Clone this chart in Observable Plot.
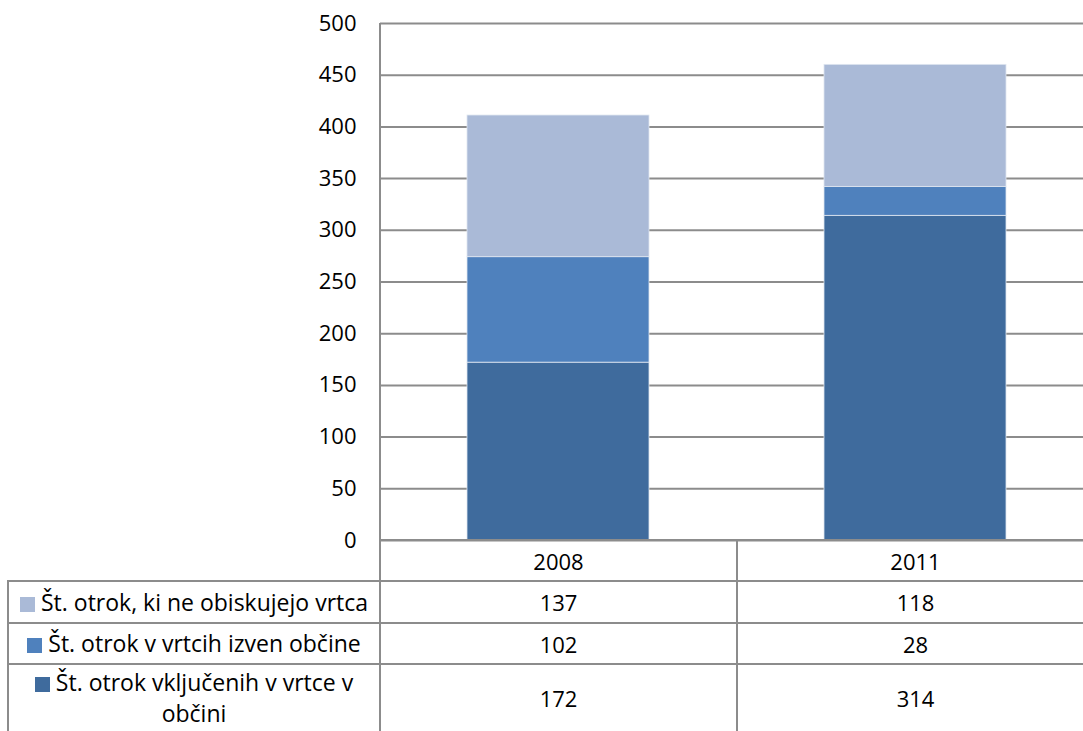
<!DOCTYPE html>
<html>
<head>
<meta charset="utf-8">
<script src="https://cdn.jsdelivr.net/npm/d3@7"></script>
<script src="https://cdn.jsdelivr.net/npm/@observablehq/plot@0.6"></script>
<style>
  html, body { margin: 0; padding: 0; background: #fff; overflow: hidden; }
  #wrap { position: relative; width: 1083px; height: 731px; overflow: hidden; font-family: "Open Sans", sans-serif; color: #000; }
  #chart { position: absolute; left: 0; top: 0; }
  #chart svg { max-width: none !important; }
  .ln { position: absolute; background: #8c8c8c; }
  .cell { position: absolute; display: flex; align-items: center; justify-content: center; text-align: center; font-size: 22px; line-height: 28px; }
  .lab { width: 364px; font-size: 23px; line-height: 31px; }
  .sw { display: inline-block; width: 15px; height: 15px; margin-right: 6px; vertical-align: -1px; }
</style>
</head>
<body>
<div id="wrap"><div id="chart"></div></div>
<script>
const years = ["2008", "2011"];
const seriesNames = [
  "Št. otrok vključenih v vrtce v občini",
  "Št. otrok v vrtcih izven občine",
  "Št. otrok, ki ne obiskujejo vrtca"
];
const vkljuceni = [172, 314];
const izven = [102, 28];
const neObiskujejo = [137, 118];
const colors = ["#3f6b9d", "#4f81bd", "#aabad7"];
const yTicks = [0, 50, 100, 150, 200, 250, 300, 350, 400, 450, 500];

const seriesValues = [vkljuceni, izven, neObiskujejo];
const data = [];
seriesNames.forEach((s, i) => years.forEach((y, j) => data.push({year: y, series: s, value: seriesValues[i][j]})));

const plot = Plot.plot({
  width: 1094,
  height: 560,
  marginLeft: 380,
  marginRight: 0,
  marginTop: 23,
  marginBottom: 20,
  style: {fontFamily: "Open Sans, sans-serif", fontSize: "22px", color: "#000", background: "transparent", maxWidth: "none"},
  x: {domain: years, paddingInner: 0.49, paddingOuter: 0.245, axis: null},
  y: {domain: [0, 500], ticks: yTicks, label: null},
  color: {domain: seriesNames, range: colors},
  marks: [
    Plot.gridY(yTicks, {stroke: "#8c8c8c", strokeOpacity: 1, strokeWidth: 2}),
    Plot.barY(data, {x: "year", y: "value", fill: "series", order: seriesNames, stroke: "#dfe6f0", strokeWidth: 0.8}),
    Plot.axisY(yTicks, {tickSize: 0, tickPadding: 24, fontSize: 22, fill: "#000", label: null})
  ]
});
document.getElementById("chart").appendChild(plot);

// Data table below the chart
const wrap = document.getElementById("wrap");
function line(x, y, w, h) {
  const d = document.createElement("div");
  d.className = "ln";
  Object.assign(d.style, {left: x + "px", top: y + "px", width: w + "px", height: h + "px"});
  wrap.appendChild(d);
}
function cell(x, y, w, h, html, cls) {
  const d = document.createElement("div");
  d.className = "cell";
  Object.assign(d.style, {left: x + "px", top: y + "px", width: w + "px", height: h + "px"});
  d.innerHTML = cls ? `<div class="${cls}">${html}</div>` : html;
  wrap.appendChild(d);
}
const colX = [380, 737, 1094];
const rowY = [541, 581, 623, 664, 750];
// lines
line(379, 23, 2, 708);
line(736, 540, 2, 191);
line(7, 580, 2, 151);
line(380, 539, 703, 2);
[580, 622, 663].forEach(y => line(7, y, 1076, 2));
// header row
years.forEach((yr, j) => cell(colX[j], rowY[0], colX[j + 1] - colX[j], rowY[1] - rowY[0], yr));
// series rows, top series first
const order = [2, 1, 0];
order.forEach((si, r) => {
  const y0 = rowY[r + 1], y1 = r === 2 ? 731 : rowY[r + 2];
  const name = seriesNames[si];
  const label = `<span class="sw" style="background:${colors[si]}"></span>${name}`;
  cell(9, y0, 370, y1 - y0, label, "lab");
  years.forEach((yr, j) => cell(colX[j], y0, colX[j + 1] - colX[j], y1 - y0, String(seriesValues[si][j])));
});
</script>
</body>
</html>
